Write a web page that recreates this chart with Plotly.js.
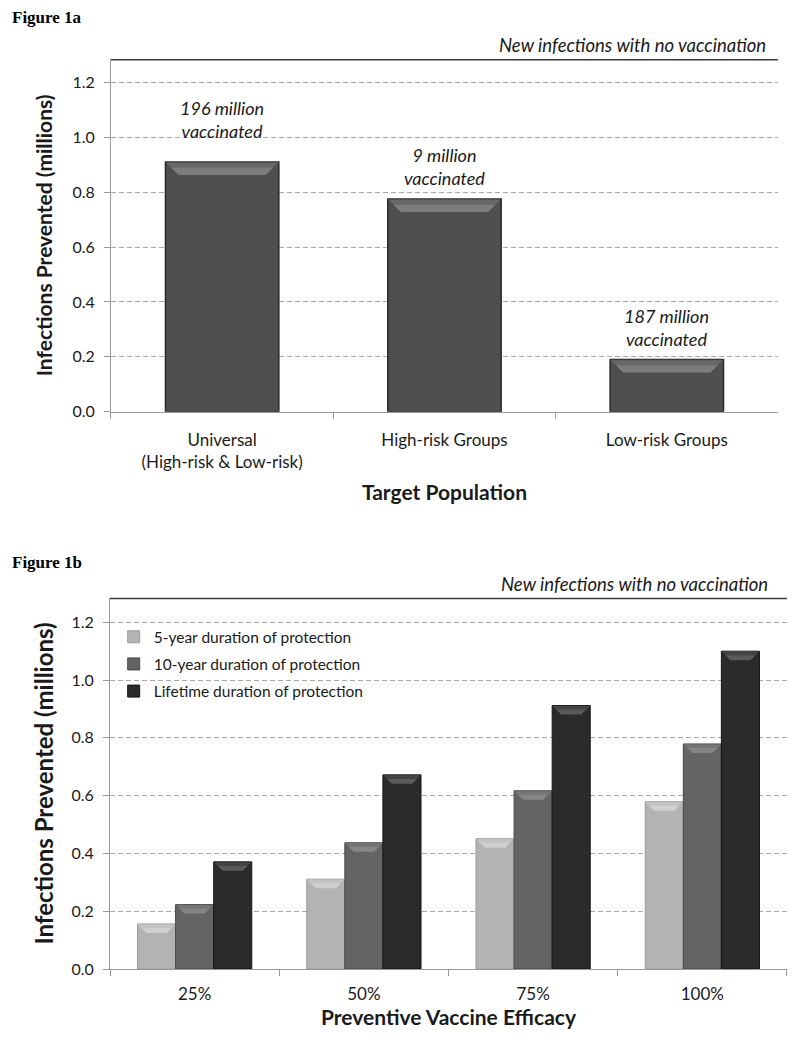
<!DOCTYPE html>
<html>
<head>
<meta charset="utf-8">
<script src="https://cdn.plot.ly/plotly-3.0.1.min.js"></script>
<style>
  html, body { margin: 0; padding: 0; background: #ffffff; }
  #chart { width: 795px; height: 1045px; }
</style>
</head>
<body>
<div id="chart"></div>
<script>
// ---- Data ----
const targetPopulations = ['Universal<br>(High-risk & Low-risk)', 'High-risk Groups', 'Low-risk Groups'];
const infectionsPreventedByTarget = [0.91, 0.775, 0.19];
const vaccinatedLabels = ['196 million<br>vaccinated', '9 million<br>vaccinated', '187 million<br>vaccinated'];

const noVaccinationInfections = 1.285;
const noVaccinationLabel = 'New infections with no vaccination';

const efficacyLevels = ['25%', '50%', '75%', '100%'];
const fiveYearProtection = [0.156, 0.311, 0.451, 0.579];
const tenYearProtection = [0.223, 0.437, 0.617, 0.779];
const lifetimeProtection = [0.371, 0.672, 0.912, 1.10];
const seriesNames = ['5-year duration of protection', '10-year duration of protection', 'Lifetime duration of protection'];

// ---- Styles ----
const FONT = 'Lato, "Open Sans", sans-serif';
const TEXT = '#1a1a1a';
const AXIS_GRAY = '#9a9a9a';
const GRID = '#a8a8a8';
const seriesColors = ['#b3b3b3', '#646464', '#2b2b2b'];
const seriesEdges = ['#9a9a9a', '#474747', '#141414'];
const BAR_1A_WIDTH = 0.51;
const BARGAP_1B = 0.325;

const traces = [];

// Figure 1a
traces.push({
  type: 'bar', x: targetPopulations, y: infectionsPreventedByTarget,
  xaxis: 'x', yaxis: 'y', width: BAR_1A_WIDTH, showlegend: false,
  marker: { color: '#4f4f4f', line: { color: '#2a2a2a', width: 1.5 } },
  hoverinfo: 'x+y'
});

// Figure 1b
const seriesValues = [fiveYearProtection, tenYearProtection, lifetimeProtection];
seriesValues.forEach((vals, i) => {
  traces.push({
    type: 'bar', x: efficacyLevels, y: vals, name: seriesNames[i],
    xaxis: 'x2', yaxis: 'y2', legendgroup: 'g' + i,
    marker: { color: seriesColors[i], line: { color: seriesEdges[i], width: 1 } }
  });
});

const yCommon = {
  range: [0, noVaccinationInfections], dtick: 0.2, tickformat: '.1f',
  showgrid: true, gridcolor: GRID, griddash: '5px,3px', gridwidth: 1,
  zeroline: false, showline: true, linecolor: AXIS_GRAY, linewidth: 1,
  ticks: 'outside', ticklen: 6, tickcolor: AXIS_GRAY,
  tickfont: { family: FONT, size: 16, color: TEXT },
  ticklabelstandoff: 6, fixedrange: true
};
const xCommon = {
  type: 'category',
  showgrid: false, zeroline: false, showline: true, linecolor: AXIS_GRAY, linewidth: 1,
  ticks: 'outside', ticklen: 6, tickcolor: AXIS_GRAY, tickson: 'boundaries',
  tickfont: { family: FONT, size: 17, color: TEXT }, fixedrange: true
};

const dom1aX = [0.1396, 0.9786], dom1aY = [0.6060, 0.9435];
const dom1bX = [0.1384, 0.9899], dom1bY = [0.0727, 0.4280];
const W = 795, H = 1045;

const layout = {
  width: W, height: H,
  margin: { l: 0, r: 0, t: 0, b: 0 },
  paper_bgcolor: '#ffffff', plot_bgcolor: '#ffffff',
  barmode: 'group', bargap: BARGAP_1B, bargroupgap: 0,
  font: { family: FONT, color: TEXT },
  xaxis: Object.assign({}, xCommon, {
    domain: dom1aX, anchor: 'y', ticklabelstandoff: 13,
    title: { text: 'Target Population', font: { family: FONT, size: 21, color: TEXT, weight: 'bold' }, standoff: 14 }
  }),
  yaxis: Object.assign({}, yCommon, {
    domain: dom1aY, anchor: 'x',
    title: { text: 'Infections Prevented (millions)', font: { family: FONT, size: 21, color: TEXT, weight: 'bold' }, standoff: 14 }
  }),
  xaxis2: Object.assign({}, xCommon, {
    domain: dom1bX, anchor: 'y2', ticklabelstandoff: 10,
    title: { text: 'Preventive Vaccine Efficacy', font: { family: FONT, size: 21, color: TEXT, weight: 'bold' }, standoff: 1 }
  }),
  yaxis2: Object.assign({}, yCommon, {
    domain: dom1bY, anchor: 'x2',
    title: { text: 'Infections Prevented (millions)', font: { family: FONT, size: 24, color: TEXT, weight: 'bold' }, standoff: 11 }
  }),
  legend: {
    x: 0.143, y: 0.4065, xanchor: 'left', yanchor: 'top',
    bgcolor: 'rgba(255,255,255,0)', traceorder: 'grouped', tracegroupgap: 4,
    font: { family: FONT, size: 15.5, color: TEXT }
  },
  shapes: [
    { type: 'line', xref: 'x domain', yref: 'y', x0: 0, x1: 1, y0: noVaccinationInfections, y1: noVaccinationInfections,
      line: { color: '#3c3c3c', width: 3 } },
    { type: 'line', xref: 'x2 domain', yref: 'y2', x0: 0, x1: 1, y0: noVaccinationInfections, y1: noVaccinationInfections,
      line: { color: '#3c3c3c', width: 3 } }
  ],
  annotations: [
    { xref: 'paper', yref: 'paper', x: 0.012, y: 0.994, xanchor: 'left', yanchor: 'top', showarrow: false,
      text: '<b>Figure 1a</b>', font: { family: '"Liberation Serif", serif', size: 17, color: '#000' } },
    { xref: 'paper', yref: 'paper', x: 0.012, y: 0.473, xanchor: 'left', yanchor: 'top', showarrow: false,
      text: '<b>Figure 1b</b>', font: { family: '"Liberation Serif", serif', size: 17, color: '#000' } },
    { xref: 'x domain', yref: 'y', x: 0.985, y: noVaccinationInfections, xanchor: 'right', yanchor: 'bottom', yshift: 1,
      showarrow: false, text: '<i>' + noVaccinationLabel + '</i>', font: { family: FONT, size: 18.5, color: TEXT } },
    { xref: 'x2 domain', yref: 'y2', x: 0.975, y: noVaccinationInfections, xanchor: 'right', yanchor: 'bottom', yshift: 1,
      showarrow: false, text: '<i>' + noVaccinationLabel + '</i>', font: { family: FONT, size: 18.5, color: TEXT } }
  ]
};

// Labels above the Figure 1a bars
const labelShift = [18, 8, 8];
targetPopulations.forEach((cat, i) => {
  layout.annotations.push({
    xref: 'x', yref: 'y', x: cat, y: infectionsPreventedByTarget[i], yanchor: 'bottom', yshift: labelShift[i],
    showarrow: false, text: '<i>' + vaccinatedLabels[i] + '</i>',
    font: { family: FONT, size: 18, color: TEXT }, align: 'center'
  });
});

// Bevel highlight at the top of each bar (derived from the data and axis scales)
function bevel(xref, yref, cx, halfW, top, bandPx, pxPerCat, pxPerUnit, alpha) {
  const ix = bandPx / pxPerCat, iy = bandPx / pxPerUnit;
  const x0 = cx - halfW, x1 = cx + halfW;
  const yb = Math.max(top - iy, top * 0.5);
  const p = 'M' + x0 + ',' + top + ' L' + x1 + ',' + top + ' L' + (x1 - ix) + ',' + yb + ' L' + (x0 + ix) + ',' + yb + ' Z';
  layout.shapes.push({ type: 'path', xref: xref, yref: yref, path: p, layer: 'above',
    fillcolor: 'rgba(255,255,255,' + alpha + ')', line: { width: 0 } });
  const ym = top - (top - yb) * 0.45;
  const p2 = 'M' + (x0 + ix * 0.45) + ',' + ym + ' L' + (x1 - ix * 0.45) + ',' + ym + ' L' + (x1 - ix) + ',' + yb + ' L' + (x0 + ix) + ',' + yb + ' Z';
  layout.shapes.push({ type: 'path', xref: xref, yref: yref, path: p2, layer: 'above',
    fillcolor: 'rgba(255,255,255,' + alpha + ')', line: { width: 0 } });
}
const px1aCat = (dom1aX[1] - dom1aX[0]) * W / targetPopulations.length;
const px1aUnit = (dom1aY[1] - dom1aY[0]) * H / noVaccinationInfections;
infectionsPreventedByTarget.forEach((v, i) => bevel('x', 'y', i, BAR_1A_WIDTH / 2, v, 13, px1aCat, px1aUnit, 0.14));

const px1bCat = (dom1bX[1] - dom1bX[0]) * W / efficacyLevels.length;
const px1bUnit = (dom1bY[1] - dom1bY[0]) * H / noVaccinationInfections;
const barW1b = (1 - BARGAP_1B) / seriesValues.length;
seriesValues.forEach((vals, s) => {
  vals.forEach((v, i) => {
    const cx = i - (1 - BARGAP_1B) / 2 + barW1b * (s + 0.5);
    bevel('x2', 'y2', cx, barW1b / 2, v, 9, px1bCat, px1bUnit, s === 0 ? 0.22 : 0.12);
  });
});

Plotly.newPlot('chart', traces, layout, { displayModeBar: false, staticPlot: true });
</script>
</body>
</html>
